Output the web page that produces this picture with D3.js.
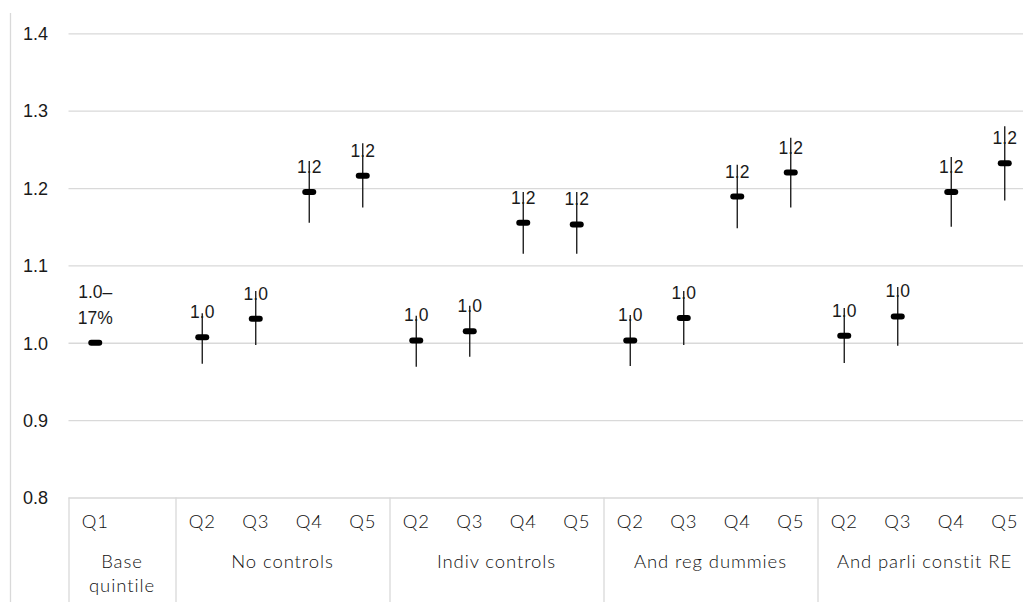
<!DOCTYPE html>
<html>
<head>
<meta charset="utf-8">
<script src="https://cdn.jsdelivr.net/npm/d3@7/dist/d3.min.js"></script>
<style>
  html, body { margin: 0; padding: 0; background: #fff; }
  svg { display: block; }
  .tick-y text { font-family: "Liberation Sans", Arial, sans-serif; font-size: 18px; fill: #1a1a1a; }
  .cat { font-family: Lato, "Open Sans", sans-serif; font-weight: 300; font-size: 18.5px; fill: #111; letter-spacing: 0.9px; }
  .val { font-family: "Liberation Sans", Arial, sans-serif; font-size: 17.5px; fill: #1a1a1a; }
</style>
</head>
<body>
<svg id="chart" width="1023" height="602"></svg>
<script>
// Odds ratios by quintile, with confidence intervals, across model specifications
const yTicks = [0.8, 0.9, 1.0, 1.1, 1.2, 1.3, 1.4];
const groups = ["Base quintile", "No controls", "Indiv controls", "And reg dummies", "And parli constit RE"];
const groupSizes = [2, 4, 4, 4, 4];
const categories = ["Q1", "", "Q2", "Q3", "Q4", "Q5", "Q2", "Q3", "Q4", "Q5",
                    "Q2", "Q3", "Q4", "Q5", "Q2", "Q3", "Q4", "Q5"];
const estimates = [1.000, null, 1.007, 1.031, 1.195, 1.216, 1.003, 1.015, 1.155, 1.153,
                   1.003, 1.032, 1.189, 1.220, 1.009, 1.034, 1.195, 1.232];
const lowerCI = [null, null, 0.973, 0.997, 1.155, 1.175, 0.969, 0.982, 1.115, 1.115,
                 0.970, 0.997, 1.148, 1.175, 0.974, 0.996, 1.150, 1.184];
const upperCI = [null, null, 1.038, 1.067, 1.235, 1.258, 1.035, 1.048, 1.195, 1.195,
                 1.036, 1.067, 1.230, 1.265, 1.045, 1.072, 1.240, 1.280];
const baseRate = ["17%"];

const svg = d3.select("#chart");
const W = 1023, H = 602;
const plotLeft = 68.5, plotRight = 1031.5, plotTop = 33.3, plotBottom = 497.5;
const grid = "#d9d9d9";

const x = d3.scaleBand().domain(d3.range(categories.length)).range([plotLeft, plotRight]).padding(0);
const y = d3.scaleLinear().domain([0.8, 1.4]).range([plotBottom, plotTop]);
const fmt = d3.format(".1f");

// outer frame line on the left
svg.append("line").attr("x1", 10.5).attr("x2", 10.5).attr("y1", 13).attr("y2", H)
  .attr("stroke", grid).attr("stroke-width", 1.3);

// value axis with gridlines
const yAxis = d3.axisLeft(y).tickValues(yTicks).tickFormat(fmt)
  .tickSize(-(plotRight - plotLeft)).tickPadding(20.5);
const gy = svg.append("g").attr("class", "tick-y").attr("transform", `translate(${plotLeft},0)`).call(yAxis);
gy.select(".domain").remove();
gy.selectAll(".tick line").attr("stroke", grid).attr("stroke-width", 1.3);
gy.selectAll(".tick text").attr("dy", "0.35em");

// category axis: group separators
let bounds = [0];
groupSizes.forEach(s => bounds.push(bounds[bounds.length - 1] + s));
const boundX = i => i < categories.length ? x(i) : plotRight;
svg.append("g").selectAll("line").data(bounds).join("line")
  .attr("x1", d => boundX(d) + 0.5).attr("x2", d => boundX(d) + 0.5)
  .attr("y1", plotBottom).attr("y2", H)
  .attr("stroke", grid).attr("stroke-width", 1.3);

// quintile labels
svg.append("g").selectAll("text").data(categories).join("text")
  .attr("class", "cat")
  .attr("x", (d, i) => x(i) + x.bandwidth() / 2)
  .attr("y", 528)
  .attr("text-anchor", "middle")
  .text(d => d);

// group labels
const groupText = svg.append("g").selectAll("text").data(groups).join("text")
  .attr("class", "cat")
  .attr("x", (d, i) => (boundX(bounds[i]) + boundX(bounds[i + 1])) / 2)
  .attr("y", 568)
  .attr("text-anchor", "middle");
groupText.each(function(d) {
  const t = d3.select(this);
  const lines = d === "Base quintile" ? ["Base", "quintile"] : [d];
  lines.forEach((l, k) => {
    t.append("tspan").attr("x", t.attr("x")).attr("dy", k === 0 ? 0 : 24).text(l);
  });
});

// confidence intervals
const idx = d3.range(categories.length).filter(i => estimates[i] !== null);
const cx = i => x(i) + x.bandwidth() / 2;
svg.append("g").selectAll("line").data(idx.filter(i => lowerCI[i] !== null)).join("line")
  .attr("x1", cx).attr("x2", cx)
  .attr("y1", i => y(upperCI[i])).attr("y2", i => y(lowerCI[i]))
  .attr("stroke", "#111").attr("stroke-width", 1.3);

// value labels
const lbl = svg.append("g").selectAll("text").data(idx).join("text")
  .attr("class", "val")
  .attr("x", cx)
  .attr("y", i => y(estimates[i]) - 19)
  .attr("text-anchor", "middle");
lbl.each(function(i) {
  const t = d3.select(this);
  if (i === 0) {
    t.append("tspan").attr("x", cx(i)).attr("dy", -26).text(fmt(estimates[i]) + "\u2013");
    t.append("tspan").attr("x", cx(i)).attr("dy", 26).text(baseRate[0]);
  } else {
    t.text(fmt(estimates[i]));
  }
});

// point markers
svg.append("g").selectAll("rect").data(idx).join("rect")
  .attr("x", i => cx(i) - 7).attr("y", i => y(estimates[i]) - 3)
  .attr("width", 14).attr("height", 6).attr("rx", 3)
  .attr("fill", "#000");
</script>
</body>
</html>
